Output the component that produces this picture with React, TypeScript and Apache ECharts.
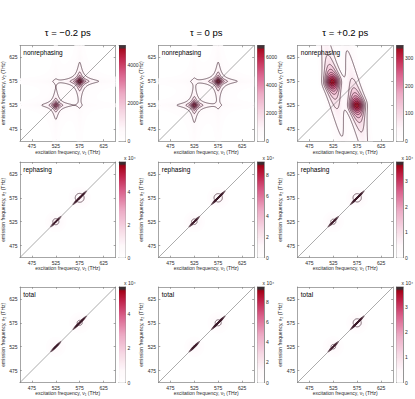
import React, { useEffect, useRef } from 'react';
import * as echarts from 'echarts';

// ---------------- data ----------------
const TAU_TITLES = ['τ = −0.2 ps', 'τ = 0 ps', 'τ = +0.2 ps'];
const ROW_LABELS = ['nonrephasing', 'rephasing', 'total'];
const AXIS_MIN = 450;
const AXIS_MAX = 650;
const AXIS_TICKS = [475, 525, 575, 625];
const X_LABEL = 'excitation frequency, ν₁ (THz)';
const Y_LABEL = 'emission frequency, ν₂ (THz)';

// peaks:
// [centre ν1, centre ν2, amplitude, width along, width across, angle (deg), along shape, across shape]
// shape 'L' = |Lorentzian|, 'G' = Gaussian
const NONREPH_M02 = [
  [575, 575, 4900, 4, 4, 0, 'L', 'L'],
  [525, 525, 3600, 4, 4, 0, 'L', 'L'],
];
const NONREPH_0 = [
  [575, 575, 6650, 4, 4, 0, 'L', 'L'],
  [525, 525, 6000, 4, 4, 0, 'L', 'L'],
];
const NONREPH_P02 = [
  [523, 574, 335, 12, 10.5, 100, 'L', 'G'],
  [574, 525, 335, 12, 10.5, 100, 'L', 'G'],
];
const REPH_M02 = [
  [575, 575, 50000, 9, 0.7, 45, 'G', 'G'],
  [575, 575, 7830, 12, 12, 0, 'G', 'G'],
  [525, 525, 33000, 7, 0.7, 45, 'G', 'G'],
  [525, 525, 6670, 12, 12, 0, 'G', 'G'],
];
const REPH_0 = [
  [575, 575, 80900, 9, 0.7, 45, 'G', 'G'],
  [575, 575, 12090, 12, 12, 0, 'G', 'G'],
  [525, 525, 55000, 7, 0.7, 45, 'G', 'G'],
  [525, 525, 10400, 12, 12, 0, 'G', 'G'],
];
const REPH_P02 = [
  [575, 575, 32600, 9, 0.7, 45, 'G', 'G'],
  [575, 575, 4875, 12, 12, 0, 'G', 'G'],
  [525, 525, 21000, 7, 0.7, 45, 'G', 'G'],
  [525, 525, 4125, 12, 12, 0, 'G', 'G'],
];
const TOTAL_M02 = [
  [575, 575, 49800, 9, 0.7, 45, 'G', 'G'],
  [575, 575, 6160, 12, 12, 0, 'G', 'G'],
  [525, 525, 33000, 7, 0.7, 45, 'G', 'G'],
  [525, 525, 5040, 12, 12, 0, 'G', 'G'],
];
const TOTAL_0 = [
  [575, 575, 84000, 9, 0.7, 45, 'G', 'G'],
  [575, 575, 10900, 12, 12, 0, 'G', 'G'],
  [525, 525, 57000, 7, 0.7, 45, 'G', 'G'],
  [525, 525, 9000, 12, 12, 0, 'G', 'G'],
];
const TOTAL_P02 = [
  [575, 575, 33100, 9, 0.7, 45, 'G', 'G'],
  [575, 575, 4860, 12, 12, 0, 'G', 'G'],
  [525, 525, 21000, 7, 0.7, 45, 'G', 'G'],
  [525, 525, 4100, 12, 12, 0, 'G', 'G'],
];
const PANEL_PEAKS = [
  [NONREPH_M02, NONREPH_0, NONREPH_P02],
  [REPH_M02, REPH_0, REPH_P02],
  [TOTAL_M02, TOTAL_0, TOTAL_P02],
];
const COLORBAR_MAX = [
  [5000, 6800, 345],
  [58000, 93000, 37500],
  [56000, 95000, 38000],
];
const COLORBAR_EXP = [
  [0, 0, 0],
  [4, 4, 4],
  [4, 4, 4],
];
const COLORBAR_TICKS = [
  [[0, 2000, 4000], [0, 2000, 4000, 6000], [0, 100, 200, 300]],
  [[0, 2, 4], [0, 2, 4, 6, 8], [0, 1, 2, 3]],
  [[0, 2, 4], [0, 2, 4, 6, 8], [0, 1, 2, 3]],
];
const CONTOUR_FRACTIONS = [0.1, 0.2, 0.3, 0.4, 0.5, 0.6, 0.7, 0.8, 0.9];

// ---------------- styles / layout ----------------
const FONT = "'Liberation Sans', Arial, Helvetica, sans-serif";
const COL_LEFT = [20, 158.5, 297.5];
const ROW_TOP = [45.5, 162, 287];
const PLOT_W = 95.5;
const PLOT_H = 95.5;
const CB_GAP = 3.5;
const CB_W = 6.5;
const NB = 96;
const BOX_COLOR = '#7f7f7f';
const TEXT_COLOR = '#2a2a2a';
const CONTOUR_COLOR = '#3a1c2a';
const CMAP_STOPS: [number, string][] = [
  [0, '#ffffff'],
  [0.13, '#fef7fa'],
  [0.3, '#f6d8e4'],
  [0.5, '#ecaac4'],
  [0.7, '#d9608b'],
  [0.86, '#c0234a'],
  [0.972, '#a10014'],
  [0.975, '#3c2c31'],
  [1, '#3c2c31'],
];

function hexRgb(h: string) {
  return [parseInt(h.slice(1, 3), 16), parseInt(h.slice(3, 5), 16), parseInt(h.slice(5, 7), 16)];
}
function cmap(t: number) {
  t = Math.max(0, Math.min(1, t));
  for (let i = 1; i < CMAP_STOPS.length; i++) {
    if (t <= CMAP_STOPS[i][0]) {
      const [t0, c0] = CMAP_STOPS[i - 1];
      const [t1, c1] = CMAP_STOPS[i];
      const f = t1 > t0 ? (t - t0) / (t1 - t0) : 0;
      const a = hexRgb(c0), b = hexRgb(c1);
      const m = a.map((v, k) => Math.round(v + (b[k] - v) * f));
      return `rgb(${m[0]},${m[1]},${m[2]})`;
    }
  }
  return CMAP_STOPS[CMAP_STOPS.length - 1][1];
}

function profile(z: number, kind: string) {
  return kind === 'G' ? Math.exp(-0.5 * z * z) : 1 / Math.sqrt(1 + z * z);
}

function makeField(peaks: any[]) {
  const pre = peaks.map((p) => {
    const th = (p[5] * Math.PI) / 180;
    return { x0: p[0], y0: p[1], a: p[2], wu: p[3], wv: p[4], c: Math.cos(th), s: Math.sin(th), ku: p[6], kv: p[7] };
  });
  return (x: number, y: number) => {
    let sum = 0;
    for (const p of pre) {
      const dx = x - p.x0, dy = y - p.y0;
      const u = dx * p.c + dy * p.s;
      const v = -dx * p.s + dy * p.c;
      sum += p.a * profile(u / p.wu, p.ku) * profile(v / p.wv, p.kv);
    }
    return sum;
  };
}

function marching(f: Float64Array, n: number, h: number, L: number): number[] {
  const out: number[] = [];
  for (let j = 0; j < n - 1; j++) {
    for (let i = 0; i < n - 1; i++) {
      const a = f[j * n + i], b = f[j * n + i + 1], c = f[(j + 1) * n + i + 1], d = f[(j + 1) * n + i];
      let idx = 0;
      if (a >= L) idx |= 1;
      if (b >= L) idx |= 2;
      if (c >= L) idx |= 4;
      if (d >= L) idx |= 8;
      if (idx === 0 || idx === 15) continue;
      const x0 = AXIS_MIN + i * h, y0 = AXIS_MIN + j * h, x1 = x0 + h, y1 = y0 + h;
      const B = () => [x0 + (h * (L - a)) / (b - a), y0];
      const R = () => [x1, y0 + (h * (L - b)) / (c - b)];
      const T = () => [x0 + (h * (L - d)) / (c - d), y1];
      const Lf = () => [x0, y0 + (h * (L - a)) / (d - a)];
      const seg = (p: number[], q: number[]) => out.push(p[0], p[1], q[0], q[1]);
      const centre = (a + b + c + d) / 4;
      switch (idx) {
        case 1: case 14: seg(Lf(), B()); break;
        case 2: case 13: seg(B(), R()); break;
        case 3: case 12: seg(Lf(), R()); break;
        case 4: case 11: seg(R(), T()); break;
        case 6: case 9: seg(B(), T()); break;
        case 7: case 8: seg(Lf(), T()); break;
        case 5:
          if (centre >= L) { seg(B(), R()); seg(Lf(), T()); } else { seg(Lf(), B()); seg(R(), T()); }
          break;
        case 10:
          if (centre >= L) { seg(Lf(), B()); seg(R(), T()); } else { seg(B(), R()); seg(Lf(), T()); }
          break;
      }
    }
  }
  return out;
}

function computePanel(peaks: any[], cmax: number, step: number) {
  const field = makeField(peaks);
  const nF = Math.round((AXIS_MAX - AXIS_MIN) / step);
  const bins: number[][] = Array.from({ length: NB }, () => []);
  for (let j = 0; j < nF; j++) {
    for (let i = 0; i < nF; i++) {
      const x = AXIS_MIN + (i + 0.5) * step;
      const y = AXIS_MIN + (j + 0.5) * step;
      const frac = field(x, y) / cmax;
      if (frac < 2 / NB) continue;
      const k = Math.min(NB - 1, Math.floor(frac * NB));
      bins[k].push(x, y);
    }
  }
  const n = nF + 1;
  const f = new Float64Array(n * n);
  for (let j = 0; j < n; j++) for (let i = 0; i < n; i++) f[j * n + i] = field(AXIS_MIN + i * step, AXIS_MIN + j * step);
  const segs = CONTOUR_FRACTIONS.map((fr) => marching(f, n, step, fr * cmax));
  return { bins, segs };
}

const DIAGONAL = [[AXIS_MIN, AXIS_MIN], [AXIS_MAX, AXIS_MAX]];

function buildOption() {
  const grid: any[] = [], xAxis: any[] = [], yAxis: any[] = [], series: any[] = [], graphic: any[] = [];
  const lineStyle = { color: BOX_COLOR, width: 0.7 };
  const labelStyle = { fontSize: 5, color: TEXT_COLOR, fontFamily: FONT };

  for (let c = 0; c < 3; c++) {
    graphic.push({
      type: 'text', x: COL_LEFT[c] + PLOT_W / 2, y: 27, silent: true, z: 100,
      style: { text: TAU_TITLES[c], fontSize: 9.5, fontFamily: FONT, fill: '#000', align: 'center', verticalAlign: 'top', textAlign: 'center', textVerticalAlign: 'top' },
    });
  }

  for (let r = 0; r < 3; r++) {
    for (let c = 0; c < 3; c++) {
      const left = COL_LEFT[c], top = ROW_TOP[r];
      const cmax = COLORBAR_MAX[r][c];
      const scale = Math.pow(10, COLORBAR_EXP[r][c]);
      const step = r === 0 ? 1 : 0.5;
      const { bins, segs } = computePanel(PANEL_PEAKS[r][c], cmax, step);
      const contourWidth = r === 0 ? 0.65 : 0.65;

      const gi = grid.length;
      grid.push({ left, top, width: PLOT_W, height: PLOT_H, outerBoundsMode: 'none', containLabel: false });
      const xb = xAxis.length;
      const axBase = { type: 'value', gridIndex: gi, min: AXIS_MIN, max: AXIS_MAX, splitLine: { show: false } };
      xAxis.push({
        ...axBase, position: 'bottom',
        axisLine: { show: true, onZero: false, lineStyle },
        axisTick: { show: true, inside: true, length: 1.8, customValues: AXIS_TICKS, lineStyle },
        axisLabel: { show: true, customValues: AXIS_TICKS, margin: 2.5, ...labelStyle },
        name: X_LABEL, nameLocation: 'middle', nameGap: 8, nameTextStyle: { ...labelStyle },
      });
      xAxis.push({
        ...axBase, position: 'top',
        axisLine: { show: true, onZero: false, lineStyle },
        axisTick: { show: true, inside: true, length: 1.8, customValues: AXIS_TICKS, lineStyle },
        axisLabel: { show: false },
      });
      const yl = yAxis.length;
      yAxis.push({
        ...axBase, position: 'left',
        axisLine: { show: true, onZero: false, lineStyle },
        axisTick: { show: true, inside: true, length: 1.8, customValues: AXIS_TICKS, lineStyle },
        axisLabel: { show: true, customValues: AXIS_TICKS, margin: 2.5, ...labelStyle },
        name: Y_LABEL, nameLocation: 'middle', nameGap: 13, nameTextStyle: { ...labelStyle },
      });
      yAxis.push({
        ...axBase, position: 'right',
        axisLine: { show: true, onZero: false, lineStyle },
        axisTick: { show: true, inside: true, length: 1.8, customValues: AXIS_TICKS, lineStyle },
        axisLabel: { show: false },
      });

      const half = step / 2;
      series.push({
        type: 'custom', xAxisIndex: xb, yAxisIndex: yl, silent: true, z: 1,
        data: bins.map((_, k) => [k]),
        renderItem: (params: any, api: any) => {
          const cells = bins[params.dataIndex];
          if (!cells.length) return null;
          const e = 0.15;
          let d = '';
          for (let q = 0; q < cells.length; q += 2) {
            const p0 = api.coord([cells[q] - half, cells[q + 1] + half]);
            const p1 = api.coord([cells[q] + half, cells[q + 1] - half]);
            const x0 = (p0[0] - e).toFixed(2), x1 = (p1[0] + e).toFixed(2);
            d += `M${x0} ${(p0[1] - e).toFixed(2)}H${x1}V${(p1[1] + e).toFixed(2)}H${x0}Z`;
          }
          return { type: 'path', shape: { pathData: d }, style: { fill: cmap((params.dataIndex + 0.5) / NB), stroke: 'none' } };
        },
      });
      series.push({
        type: 'line', xAxisIndex: xb, yAxisIndex: yl, silent: true, z: 2, symbol: 'none',
        data: DIAGONAL, lineStyle: { color: '#747474', width: 0.6 },
      });
      series.push({
        type: 'custom', xAxisIndex: xb, yAxisIndex: yl, silent: true, z: 3,
        data: segs.map((_, k) => [k]),
        renderItem: (params: any, api: any) => {
          const s = segs[params.dataIndex];
          if (!s.length) return null;
          let d = '';
          for (let q = 0; q < s.length; q += 4) {
            const p = api.coord([s[q], s[q + 1]]);
            const t = api.coord([s[q + 2], s[q + 3]]);
            d += `M${p[0].toFixed(2)} ${p[1].toFixed(2)}L${t[0].toFixed(2)} ${t[1].toFixed(2)}`;
          }
          return { type: 'path', shape: { pathData: d }, style: { fill: 'none', stroke: CONTOUR_COLOR, lineWidth: contourWidth } };
        },
      });

      graphic.push({
        type: 'text', x: left + 3.3, y: top + 3.5, silent: true, z: 100,
        style: { text: ROW_LABELS[r], fontSize: 6.5, fontFamily: FONT, fill: '#000', align: 'left', verticalAlign: 'top', textAlign: 'left', textVerticalAlign: 'top' },
      });

      // colorbar
      const cg = grid.length;
      const cmaxS = cmax / scale;
      grid.push({ left: left + PLOT_W + CB_GAP, top, width: CB_W, height: PLOT_H, outerBoundsMode: 'none', containLabel: false });
      const cxb = xAxis.length;
      const cbX = { type: 'value', gridIndex: cg, min: 0, max: 1, splitLine: { show: false }, axisTick: { show: false }, axisLabel: { show: false }, axisLine: { show: true, onZero: false, lineStyle: { color: '#666', width: 0.7 } } };
      xAxis.push({ ...cbX, position: 'bottom' });
      xAxis.push({ ...cbX, position: 'top' });
      const cyl = yAxis.length;
      const ticks = COLORBAR_TICKS[r][c];
      yAxis.push({
        type: 'value', gridIndex: cg, min: 0, max: cmaxS, position: 'right', splitLine: { show: false },
        axisLine: { show: true, onZero: false, lineStyle: { color: '#666', width: 0.7 } },
        axisTick: { show: true, inside: true, length: 1.3, customValues: ticks, lineStyle },
        axisLabel: { show: true, customValues: ticks, margin: 2, ...labelStyle, formatter: (v: number) => String(v) },
        name: COLORBAR_EXP[r][c] ? 'x 10⁴' : '', nameLocation: 'end', nameGap: 1.5,
        nameTextStyle: { ...labelStyle, align: 'left', verticalAlign: 'bottom', padding: [0, 0, 0, -1.5] },
      });
      yAxis.push({
        type: 'value', gridIndex: cg, min: 0, max: cmaxS, position: 'left', splitLine: { show: false },
        axisLine: { show: true, onZero: false, lineStyle: { color: '#666', width: 0.7 } },
        axisTick: { show: true, inside: true, length: 1.3, customValues: ticks, lineStyle },
        axisLabel: { show: false },
      });
      series.push({
        type: 'custom', xAxisIndex: cxb, yAxisIndex: cyl, silent: true, z: 1,
        data: Array.from({ length: NB }, (_, k) => [k]),
        renderItem: (params: any, api: any) => {
          const k = params.dataIndex;
          const p0 = api.coord([0, ((k + 1) / NB) * cmaxS]);
          const p1 = api.coord([1, (k / NB) * cmaxS]);
          return {
            type: 'rect',
            shape: { x: p0[0], y: p0[1] - 0.3, width: p1[0] - p0[0], height: p1[1] - p0[1] + 0.6 },
            style: { fill: cmap((k + 0.5) / NB), stroke: 'none' },
          };
        },
      });
    }
  }

  return {
    animation: false,
    backgroundColor: '#ffffff',
    textStyle: { fontFamily: FONT },
    grid, xAxis, yAxis, series, graphic,
  };
}

export default function App() {
  const ref = useRef<HTMLDivElement>(null);
  useEffect(() => {
    if (!ref.current) return;
    const chart = echarts.init(ref.current, null, { renderer: 'svg' });
    chart.setOption(buildOption() as any);
    return () => chart.dispose();
  }, []);
  return (
    <div
      ref={ref}
      style={{ position: 'fixed', left: 0, top: 0, width: 415, height: 399, background: '#fff' }}
    />
  );
}
